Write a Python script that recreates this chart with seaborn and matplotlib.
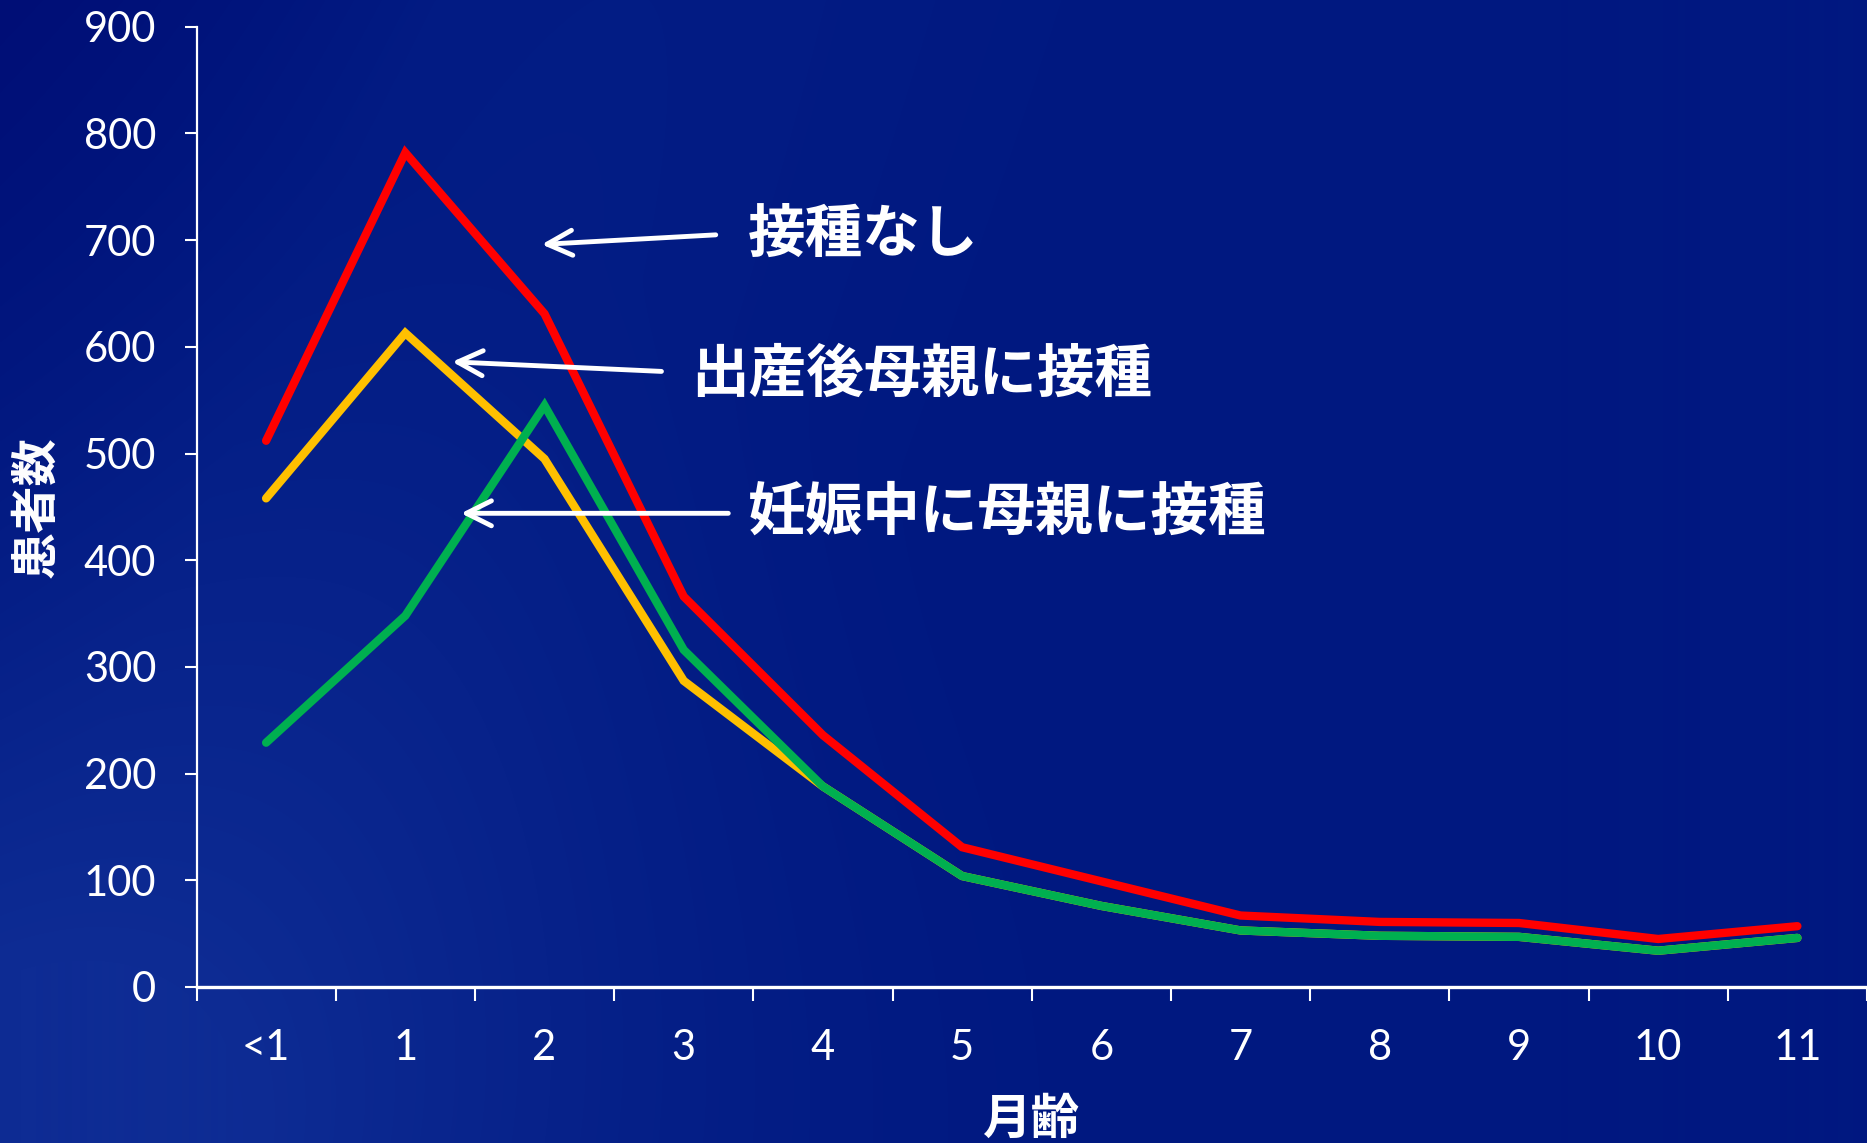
import numpy as np
import pandas as pd
import matplotlib
matplotlib.use("Agg")
import matplotlib.pyplot as plt
import seaborn as sns

# ---- data ----
categories = ["<1", "1", "2", "3", "4", "5", "6", "7", "8", "9", "10", "11"]
series_names = ["接種なし", "出産後母親に接種", "妊娠中に母親に接種"]
no_vaccine = [512, 782, 631, 366, 236, 131, 99, 67, 61, 60, 45, 57]
postpartum = [458, 613, 495, 287, 188, 104, 76, 53, 48, 47, 34, 46]
pregnancy = [229, 348, 545, 316, 188, 104, 76, 53, 48, 47, 34, 46]
line_colors = ["#FF0000", "#FFC000", "#00B050"]
y_ticks = [0, 100, 200, 300, 400, 500, 600, 700, 800, 900]
x_label = "月齢"
y_label = "患者数"

# annotation arrows: (text position, arrow tail, arrow head) in data units
ann_text_pos = [(3.46, 705), (3.05, 574), (3.46, 445)]
ann_tails = [(3.23, 705), (2.84, 577), (3.32, 444)]
ann_heads = [(1.98, 696), (1.337, 586), (1.40, 444)]

sns.set_theme(style="white")
plt.rcParams["font.family"] = ["Lato", "Noto Sans CJK JP", "DejaVu Sans"]
jp_font = ["Noto Sans CJK JP", "DejaVu Sans"]

pos = np.arange(len(categories))
df = pd.concat([
    pd.DataFrame({"pos": pos, "value": vals, "series": name})
    for name, vals in zip(series_names, [no_vaccine, postpartum, pregnancy])
], ignore_index=True)

W, H = 1867, 1143
fig = plt.figure(figsize=(W / 100, H / 100), dpi=100)

# background gradient
bg = fig.add_axes([0, 0, 1, 1], zorder=-10)
yy, xx = np.mgrid[0:H, 0:W]
u = xx / W
v = yy / H
base = np.array([0, 24, 128]) / 255.0
light = np.array([14, 44, 148]) / 255.0
dark = np.array([0, 14, 118]) / 255.0
d = np.sqrt((u * 1.4) ** 2 + ((1 - v) * 1.0) ** 2)
t_light = np.clip(1 - d / 0.9, 0, 1) ** 1.5
s = u / 0.236 + v / 0.83 - 1.0
band = 0.35 * np.exp(-((s - 0.6) / 0.9) ** 2) * np.clip(1 - u * 1.2, 0, 1)
t_light = np.clip(t_light + band, 0, 1)
t_dark = np.clip(-s, 0, 1) * np.clip(1 - v * 1.3, 0, 1)
img = (base[None, None, :] * (1 - t_light[..., None]) + light[None, None, :] * t_light[..., None])
img = img * (1 - t_dark[..., None]) + dark[None, None, :] * t_dark[..., None]
bg.imshow(img, aspect="auto", extent=[0, 1, 0, 1], origin="upper")
bg.set_axis_off()

ax = fig.add_axes([196.5 / W, 1 - 987 / H, 1 - 196.5 / W, (987 - 26.8) / H])
ax.set_facecolor("none")

sns.lineplot(data=df, x="pos", y="value", hue="series", hue_order=series_names,
             palette=line_colors, linewidth=6, sort=False, legend=False, ax=ax)
for ln in ax.get_lines():
    ln.set_solid_capstyle("round")
    ln.set_solid_joinstyle("miter")

ax.set_xlim(-0.5, len(categories) - 0.5)
ax.set_ylim(0, 900)
ax.set_yticks(y_ticks)
ax.set_xticks(pos)
ax.set_xticklabels(categories)
ax.set_xticks(np.arange(-0.5, len(categories), 1.0), minor=True)

for side in ["top", "right"]:
    ax.spines[side].set_visible(False)
ax.spines["left"].set_color("white")
ax.spines["left"].set_linewidth(1.6)
ax.spines["bottom"].set_color("white")
ax.spines["bottom"].set_linewidth(2.4)

ax.tick_params(axis="y", which="major", direction="out", length=9, width=1.5,
               color="white", labelcolor="white", labelsize=30, pad=20, left=True)
ax.tick_params(axis="x", which="major", length=0, labelcolor="white",
               labelsize=30, pad=30, bottom=True)
ax.tick_params(axis="x", which="minor", direction="out", length=10, width=1.5,
               color="white", bottom=True)

ax.set_xlabel(x_label, fontsize=35, color="white", fontweight="bold", family=jp_font)
ax.xaxis.label.set_va("center")
ax.xaxis.set_label_coords(0.5, -0.1375)
ax.set_ylabel(y_label, fontsize=34, color="white", fontweight="bold", family=jp_font)
ax.yaxis.label.set_va("center")
ax.yaxis.set_label_coords(-0.096, 0.5)

for name, tpos, tail, head in zip(series_names, ann_text_pos, ann_tails, ann_heads):
    ax.annotate("", xy=head, xytext=tail,
                arrowprops=dict(arrowstyle="->,head_length=0.9,head_width=0.45",
                                color="white", lw=3.5, mutation_scale=20,
                                shrinkA=0, shrinkB=0))
    ax.text(tpos[0], tpos[1], name, color="white", fontsize=41.5, fontweight="bold",
            family=jp_font, ha="left", va="center")

fig.savefig("out.png", dpi=100)
